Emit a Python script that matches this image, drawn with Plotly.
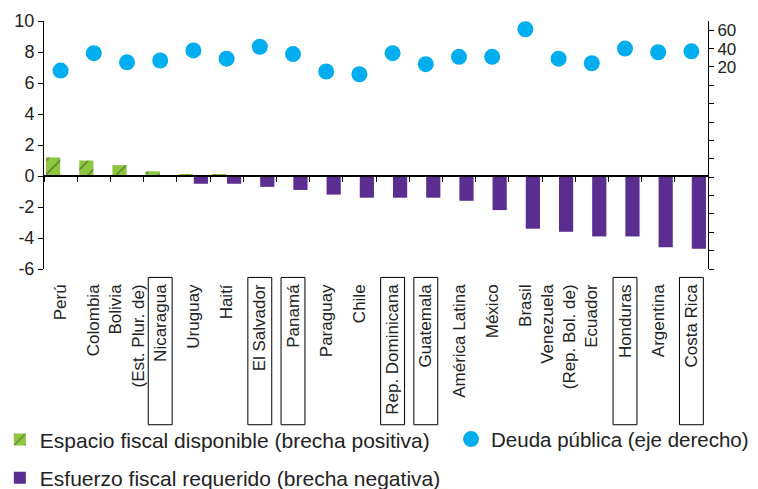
import plotly.graph_objects as go

countries = [
    "Perú", "Colombia", "Bolivia<br>(Est. Plur. de)", "Nicaragua", "Uruguay",
    "Haití", "El Salvador", "Panamá", "Paraguay", "Chile",
    "Rep. Dominicana", "Guatemala", "América Latina", "México", "Brasil",
    "Venezuela<br>(Rep. Bol. de)", "Ecuador", "Honduras", "Argentina", "Costa Rica",
]
espacio = [1.2, 1.0, 0.7, 0.3, 0.1, 0.1, None, None, None, None,
           None, None, None, None, None, None, None, None, None, None]
esfuerzo = [None, None, None, None, -0.5, -0.5, -0.7, -0.9, -1.2, -1.4,
            -1.4, -1.4, -1.6, -2.2, -3.4, -3.6, -3.9, -3.9, -4.6, -4.7]
deuda = [16, 35, 25, 27, 38, 29, 42, 34, 15, 12,
         35, 23, 31, 31, 61, 29, 24, 40, 36, 37]
boxed = ["Nicaragua", "El Salvador", "Panamá", "Rep. Dominicana",
         "Guatemala", "Honduras", "Costa Rica"]

left_ticks = list(range(-6, 11, 2))
left_text = [str(v) for v in left_ticks]  # plain hyphen, not unicode minus
right_ticks = list(range(-200, 61, 20))
right_text = [str(v) if v > 0 else "" for v in right_ticks]

GREEN = "#8DC63F"
PURPLE = "#5C2D91"
BLUE = "#00AEEF"
FONT = "Liberation Sans, Arial, sans-serif"

fig = go.Figure()
fig.add_trace(
    go.Bar(
        x=countries,
        y=espacio,
        name="Espacio fiscal disponible (brecha positiva)",
        marker=dict(
            color=GREEN,
            line_width=0,
            pattern=dict(shape="/", fgcolor="#1a1a1a", bgcolor=GREEN, size=10, solidity=0.12),
        ),
        legend="legend",
        legendgroup="a",
    )
)
fig.add_trace(
    go.Bar(
        x=countries,
        y=esfuerzo,
        name="Esfuerzo fiscal requerido (brecha negativa)",
        marker=dict(color=PURPLE, line_width=0),
        legend="legend",
        legendgroup="b",
    )
)
fig.add_trace(
    go.Scatter(
        x=countries,
        y=deuda,
        name="Deuda pública (eje derecho)",
        mode="markers",
        marker=dict(color=BLUE, size=16),
        yaxis="y2",
        legend="legend2",
    )
)
# invisible trace carrying the zero-line axis with boundary ticks
fig.add_trace(
    go.Scatter(
        x=countries,
        y=[0] * len(countries),
        xaxis="x2",
        mode="markers",
        marker=dict(opacity=0),
        showlegend=False,
        hoverinfo="skip",
    )
)

for name in boxed:
    i = countries.index(name)
    fig.add_shape(
        type="rect",
        xref="x",
        yref="paper",
        x0=i - 0.36,
        x1=i + 0.36,
        y0=-0.034,
        y1=-0.628,
        line=dict(color="black", width=1),
    )

# the page body keeps its default 8px margin, so the figure is drawn 8px smaller
fig.update_layout(
    width=750,
    height=481,
    margin=dict(l=36, r=50, t=13, b=220, autoexpand=False),
    paper_bgcolor="white",
    plot_bgcolor="white",
    font=dict(family=FONT, size=17, color="#222"),
    barmode="group",
    bargap=0.1,
    bargroupgap=0.05,
    xaxis=dict(
        type="category",
        categoryorder="array",
        categoryarray=countries,
        range=[-0.5, len(countries) - 0.5],
        showline=False,
        ticks="",
        tickangle=-90,
        ticklabelstandoff=11,
        tickfont=dict(size=17),
        showgrid=False,
        automargin=False,
    ),
    xaxis2=dict(
        type="category",
        categoryorder="array",
        categoryarray=countries,
        overlaying="x",
        matches="x",
        anchor="free",
        position=0.375,
        showline=True,
        linecolor="black",
        linewidth=1.5,
        ticks="outside",
        tickson="boundaries",
        ticklen=5,
        tickcolor="black",
        showticklabels=False,
        showgrid=False,
    ),
    yaxis=dict(
        range=[-6, 10],
        tickvals=left_ticks,
        ticktext=left_text,
        showline=True,
        linecolor="black",
        ticks="outside",
        ticklen=5,
        tickcolor="black",
        zeroline=False,
        showgrid=False,
        tickfont=dict(size=18),
        automargin=False,
    ),
    yaxis2=dict(
        range=[-200, 70],
        overlaying="y",
        side="right",
        anchor="x",
        tickvals=right_ticks,
        ticktext=right_text,
        showline=True,
        linecolor="black",
        ticks="outside",
        ticklen=5,
        tickcolor="black",
        zeroline=False,
        showgrid=False,
        tickfont=dict(size=17),
        automargin=False,
    ),
    legend=dict(
        x=-0.0665,
        y=-0.606,
        xanchor="left",
        yanchor="top",
        orientation="v",
        tracegroupgap=8,
        font=dict(size=21),
        bgcolor="rgba(0,0,0,0)",
    ),
    legend2=dict(
        x=0.613,
        y=-0.606,
        xanchor="left",
        yanchor="top",
        font=dict(size=20.5),
        bgcolor="rgba(0,0,0,0)",
    ),
)

fig.write_html("out.html")
